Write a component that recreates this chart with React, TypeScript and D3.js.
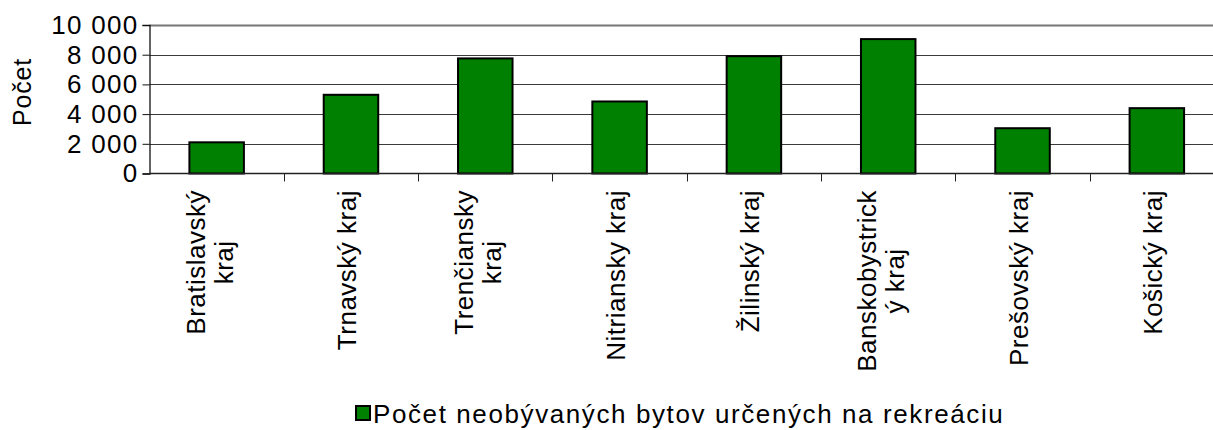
import React, { useEffect, useRef } from 'react';
import * as d3 from 'd3';

const categories = [
  'Bratislavský kraj',
  'Trnavský kraj',
  'Trenčiansky kraj',
  'Nitriansky kraj',
  'Žilinský kraj',
  'Banskobystrický kraj',
  'Prešovský kraj',
  'Košický kraj',
];

// how the category labels wrap in the picture
const labelLines = [
  ['Bratislavský', 'kraj'],
  ['Trnavský kraj'],
  ['Trenčiansky', 'kraj'],
  ['Nitriansky kraj'],
  ['Žilinský kraj'],
  ['Banskobystrick', 'ý kraj'],
  ['Prešovský kraj'],
  ['Košický kraj'],
];

const values = [2100, 5300, 7750, 4850, 7900, 9050, 3050, 4400];

const yTicks = [0, 2000, 4000, 6000, 8000, 10000];

const seriesName = 'Počet neobývaných bytov určených na rekreáciu';
const yTitle = 'Počet';

const App = () => {
  const svgRef = useRef<SVGSVGElement>(null);

  useEffect(() => {
    const width = 1213;
    const height = 430;
    const left = 149.5;
    const right = 1224;
    const top = 25;
    const bottom = 173.5;
    const font = '"Liberation Sans", Arial, sans-serif';

    const svg = d3.select(svgRef.current);
    svg.selectAll('*').remove();
    svg.attr('width', width).attr('height', height);

    const x = d3.scaleBand().domain(categories).range([left, right]).padding(0);
    const y = d3.scaleLinear().domain([0, 10000]).range([bottom, top]);

    const fmt = (v: number) => d3.format(',')(v).replace(/,/g, ' ');

    // gridlines
    svg.append('g')
      .selectAll('line')
      .data(yTicks.filter(t => t > 0))
      .enter().append('line')
      .attr('x1', left).attr('x2', right)
      .attr('y1', d => Math.round(y(d)) + 0.5)
      .attr('y2', d => Math.round(y(d)) + 0.5)
      .attr('stroke', d => (d === 10000 ? '#777' : '#3a3a3a'))
      .attr('stroke-width', d => (d === 10000 ? 2 : 1.2));

    // bars
    const barW = 54.5;
    svg.append('g')
      .selectAll('rect')
      .data(values)
      .enter().append('rect')
      .attr('x', (d, i) => (x(categories[i]) as number) + x.bandwidth() / 2 - barW / 2)
      .attr('y', d => y(d))
      .attr('width', barW)
      .attr('height', d => y(0) - y(d))
      .attr('fill', '#008000')
      .attr('stroke', '#000')
      .attr('stroke-width', 2);

    // y axis
    const yAxis = svg.append('g')
      .attr('transform', `translate(${left},0)`)
      .call(d3.axisLeft(y).tickValues(yTicks).tickSize(7).tickPadding(4).tickFormat(d => fmt(d as number)));
    yAxis.select('.domain').attr('stroke', '#111').attr('stroke-width', 1.3);
    yAxis.selectAll('.tick line').attr('stroke', '#111');
    yAxis.selectAll('.tick text')
      .attr('font-family', font)
      .attr('font-size', 26)
      .attr('letter-spacing', 1.3)
      .attr('fill', '#000');

    // x axis: ticks at category boundaries
    const bounds = categories.map(c => x(c) as number).concat([right]);
    svg.append('line')
      .attr('x1', left).attr('x2', right)
      .attr('y1', bottom).attr('y2', bottom)
      .attr('stroke', '#222').attr('stroke-width', 1.3);
    svg.append('g')
      .selectAll('line')
      .data(bounds.slice(1))
      .enter().append('line')
      .attr('x1', d => Math.round(d) + 0.5).attr('x2', d => Math.round(d) + 0.5)
      .attr('y1', bottom).attr('y2', bottom + 8)
      .attr('stroke', '#222');

    // category labels, rotated
    const labelTop = 190;
    const lineH = 28;
    const capH = 18;
    labelLines.forEach((lines, i) => {
      const shift = lines.length > 1 ? -7 : -4;
      const cx = (x(categories[i]) as number) + x.bandwidth() / 2 + shift;
      const g = svg.append('g')
        .attr('transform', `translate(${cx},${labelTop}) rotate(-90)`);
      const texts = lines.map((ln, j) => g.append('text')
        .attr('text-anchor', 'middle')
        .attr('font-family', font)
        .attr('font-size', 26)
        .attr('letter-spacing', 0.5)
        .attr('y', (j - (lines.length - 1) / 2) * lineH + capH / 2)
        .text(ln));
      const maxLen = d3.max(texts, t => (t.node() as SVGTextElement).getComputedTextLength()) || 0;
      texts.forEach(t => t.attr('x', -maxLen / 2));
    });

    // y title
    svg.append('text')
      .attr('transform', `translate(${31},${92}) rotate(-90)`)
      .attr('text-anchor', 'middle')
      .attr('font-family', font)
      .attr('font-size', 25)
      .attr('letter-spacing', 0.8)
      .text(yTitle);

    // legend
    const lg = svg.append('g').attr('transform', 'translate(356,406)');
    lg.append('rect')
      .attr('width', 14).attr('height', 14)
      .attr('fill', '#008000').attr('stroke', '#000').attr('stroke-width', 2);
    lg.append('text')
      .attr('x', 17).attr('y', 16.5)
      .attr('font-family', font)
      .attr('font-size', 26)
      .attr('letter-spacing', 1.6)
      .text(seriesName);
  }, []);

  return (
    <svg ref={svgRef} style={{ position: 'absolute', left: 0, top: 0, background: '#fff' }}></svg>
  );
};

export default App;
